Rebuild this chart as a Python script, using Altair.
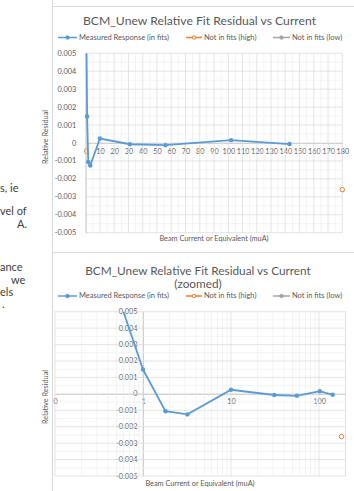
import math

import altair as alt
import pandas as pd

# Measured response used in the fits: beam current (muA) and relative residual
current = [0.6, 1, 1.8, 3.2, 10, 31, 56, 102, 143]
residual = [0.0062, 0.00148, -0.00106, -0.00125, 0.00025, -0.00007, -0.00012, 0.00016, -0.00006]
# Points left out of the fits
high_current = [180]
high_residual = [-0.0026]

series_names = ["Measured Response (in fits)", "Not in fits (high)", "Not in fits (low)"]
series_colors = ["#5b9bd5", "#ed7d31", "#a5a5a5"]
series_filled = [True, False, True]

chart_title = "BCM_Unew Relative Fit Residual vs Current"
zoom_note = "(zoomed)"
x_title = "Beam Current or Equivalent (muA)"
y_title = "Relative Residual"

lin_ticks = list(range(0, 181, 10))
log_ticks = [0.1, 1, 10, 100]
y_ticks = [round(-0.005 + 0.001 * i, 3) for i in range(11)]

# fragments of the neighbouring slide text
side_text = ["s, ie", "vel of", "A.", "ance", "we", "els", "."]
side_pos = [(0, 189), (0, 212), (17, 225), (0, 268), (11, 281), (0, 293), (2, 305)]

FONT = "Lato"
GREY = "#595959"
W, H = 354, 491
Y_LO, Y_HI = -0.005, 0.005

# pixel frames of the two plot areas
TOP_X = [85.7, 342.3]
TOP_Y = [232.7, 53.3]
BOT_X = [55.0, 345.5]
BOT_Y = [476.0, 311.7]

y_minor = [round(-0.0045 + 0.001 * i, 4) for i in range(10)]
lin_minor = [v + 5 for v in range(0, 180, 10)]
log_minor = [k * 10 ** e for e in (-1, 0, 1) for k in range(2, 10)] + [200]


def axis_common(**kw):
    return alt.Axis(title=None, grid=False, ticks=False, labelFont=FONT, labelFontSize=7.3,
                    labelColor=GREY, domainColor="#bfbfbf", domainWidth=0.8,
                    labelOverlap=False, labelFlush=False, **kw)


def panel(xscale, yscale, xaxis, yaxis, x_major, x_minor, x_lo, x_hi):
    X = lambda f: alt.X(f, type="quantitative", scale=xscale, axis=xaxis)
    Y = lambda f: alt.Y(f, type="quantitative", scale=yscale, axis=yaxis)
    layers = []
    for vals, col in ((x_minor, "#eeeeee"), (x_major, "#d9d9d9")):
        d = pd.DataFrame({"v": vals, "lo": Y_LO, "hi": Y_HI})
        layers.append(alt.Chart(d).mark_rule(color=col, strokeWidth=0.7)
                      .encode(x=X("v"), y=Y("lo"), y2="hi"))
    for vals, col in ((y_minor, "#eeeeee"), (y_ticks, "#d9d9d9")):
        d = pd.DataFrame({"h": vals, "lo": x_lo, "hi": x_hi})
        layers.append(alt.Chart(d).mark_rule(color=col, strokeWidth=0.7)
                      .encode(y=Y("h"), x=X("lo"), x2="hi"))
    meas = pd.DataFrame({"current": current, "residual": residual})
    layers.append(alt.Chart(meas).mark_line(color=series_colors[0], strokeWidth=1.8)
                  .encode(x=X("current"), y=Y("residual")))
    layers.append(alt.Chart(meas).transform_filter(f"datum.residual <= {Y_HI}")
                  .mark_circle(color=series_colors[0], size=20, opacity=1)
                  .encode(x=X("current"), y=Y("residual")))
    high = pd.DataFrame({"current": high_current, "residual": high_residual})
    layers.append(alt.Chart(high).mark_point(shape="circle", filled=False, stroke=series_colors[1],
                                              fill="white", strokeWidth=1, size=20, opacity=1)
                  .encode(x=X("current"), y=Y("residual")))
    return alt.layer(*layers)


def px_lin(v, dom, rng):
    return rng[0] + (rng[1] - rng[0]) * (v - dom[0]) / (dom[1] - dom[0])


top_zero = px_lin(0, [Y_LO, Y_HI], TOP_Y)
bot_zero = px_lin(0, [Y_LO, Y_HI], BOT_Y)
bot_one = BOT_X[0] + (BOT_X[1] - BOT_X[0]) * (0 - math.log10(0.1)) / (math.log10(200) - math.log10(0.1))

top = panel(
    alt.Scale(domain=[0, 180], range=TOP_X, nice=False, zero=False),
    alt.Scale(domain=[Y_LO, Y_HI], range=TOP_Y, nice=False, zero=False, clamp=True),
    axis_common(orient="bottom", values=lin_ticks, offset=top_zero - H, labelPadding=4),
    axis_common(orient="left", values=y_ticks, offset=-TOP_X[0], labelPadding=10,
                labelExpr="toString(datum.value)"),
    lin_ticks, lin_minor, 0, 180,
)

bottom = panel(
    alt.Scale(type="log", domain=[0.1, 200], range=BOT_X, nice=False),
    alt.Scale(domain=[Y_LO, Y_HI], range=BOT_Y, nice=False, zero=False, clamp=True),
    axis_common(orient="bottom", values=log_ticks, offset=bot_zero - H, labelPadding=4,
                labelExpr="datum.value < 1 ? '0' : toString(datum.value)"),
    axis_common(orient="left", values=y_ticks, offset=-bot_one, labelPadding=6,
                labelExpr="toString(datum.value)"),
    log_ticks + [200], log_minor, 0.1, 200,
)


def label(text, x, y, size=7.3, align="center", angle=0, color=GREY):
    return (alt.Chart(pd.DataFrame({"t": [text]}))
            .mark_text(align=align, baseline="middle", font=FONT, fontSize=size, angle=angle, color=color)
            .encode(x=alt.value(x), y=alt.value(y), text="t:N"))


def legend(yc):
    spots = [(58, 77, 79), (186, 202, 204), (273, 290, 292)]
    out = []
    for name, col, filled, (a, b, t) in zip(series_names, series_colors, series_filled, spots):
        d = pd.DataFrame({"name": [name]})
        out.append(alt.Chart(d).mark_rule(color=col, strokeWidth=1.5)
                   .encode(x=alt.value(a), x2=alt.value(b), y=alt.value(yc)))
        out.append(alt.Chart(d).mark_point(shape="circle", filled=False, stroke=col,
                                           fill=col if filled else "white", strokeWidth=1, size=12, opacity=1)
                   .encode(x=alt.value((a + b) / 2), y=alt.value(yc)))
        out.append(alt.Chart(d).mark_text(align="left", baseline="middle", font=FONT, fontSize=7.5, color=GREY)
                   .encode(x=alt.value(t), y=alt.value(yc), text="name:N"))
    return out


def frame_rule(x, x2, y, y2):
    return (alt.Chart(pd.DataFrame({"a": [0]})).mark_rule(color="#d9d9d9", strokeWidth=1)
            .encode(x=alt.value(x), x2=alt.value(x2), y=alt.value(y), y2=alt.value(y2)))


deco = [
    frame_rule(52.5, 52.5, 0, H),
    frame_rule(52.5, W, 6.5, 6.5),
    frame_rule(52.5, W, 252.5, 252.5),
    label(chart_title, 199.5, 20.5, size=12.2),
    label(chart_title, 198, 270.5, size=11.8),
    label(zoom_note, 198, 284, size=11.8),
    label(y_title, 46, 137, angle=270),
    label(y_title, 46, 397, angle=270),
    label(x_title, 214, 238.5),
    label(x_title, 200, 483.5),
    *legend(37.5),
    *legend(296),
]
for txt, (sx, sy) in zip(side_text, side_pos):
    deco.append(label(txt, sx, sy, size=11, align="left", color="#404040"))

chart = (
    alt.layer(top, bottom, *deco)
    .resolve_scale(x="independent", y="independent")
    .properties(width=W, height=H, padding=0, background="white",
                autosize=alt.AutoSizeParams(type="none"))
    .configure_view(stroke=None)
)

chart.save("out.html", embed_options={"renderer": "svg", "actions": False})
